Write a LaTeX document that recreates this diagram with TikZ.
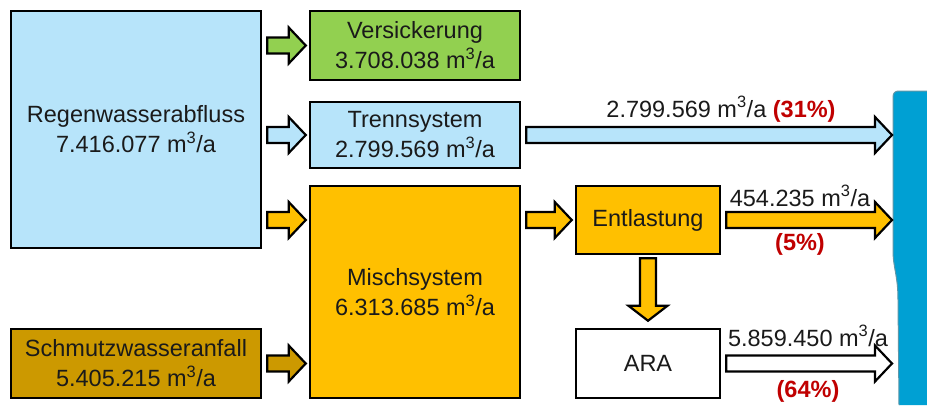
\documentclass[tikz,border=0pt]{standalone}
\usepackage{fontspec}
\setmainfont{Liberation Sans}
\usetikzlibrary{calc}

\definecolor{regenblau}{HTML}{B7E4FA}
\definecolor{versgruen}{HTML}{92D050}
\definecolor{mischgelb}{HTML}{FFC000}
\definecolor{schmutzgelb}{HTML}{CC9900}
\definecolor{fluss}{HTML}{00A0D3}
\definecolor{flussrand}{HTML}{5F97A8}
\definecolor{prozentrot}{HTML}{C00000}
\definecolor{textgrau}{HTML}{1A1A1A}

\tikzset{
  box/.style={draw=black, line width=2.5pt, align=center, text=textgrau,
    font=\fontsize{23.5}{30}\selectfont, inner sep=0pt},
  wert/.style={text=textgrau, font=\fontsize{23.5}{28}\selectfont, inner sep=0pt, anchor=base},
  flow/.style={draw=black, line width=2.2pt, line join=miter},
}

% Blockpfeil waagrecht: Farbe, von, nach
\newcommand{\hflow}[3]{%
  \draw[flow, fill=#1] let \p1=(#2), \p2=(#3) in
    (\x1+5pt,\y1+8pt) -- (\x2-20pt,\y1+8pt) -- (\x2-20pt,\y1+18pt) -- (\x2-3pt,\y1)
    -- (\x2-20pt,\y1-18pt) -- (\x2-20pt,\y1-8pt) -- (\x1+5pt,\y1-8pt) -- cycle;}
% Blockpfeil senkrecht nach unten
\newcommand{\vflow}[3]{%
  \draw[flow, fill=#1] let \p1=(#2), \p2=(#3) in
    (\x1-8pt,\y1-3pt) -- (\x1-8pt,\y2+22pt) -- (\x1-19.5pt,\y2+22pt) -- (\x1,\y2+7pt)
    -- (\x1+19.5pt,\y2+22pt) -- (\x1+8pt,\y2+22pt) -- (\x1+8pt,\y1-3pt) -- cycle;}

\begin{document}
\begin{tikzpicture}[x=1pt,y=-1pt]

    \useasboundingbox (0,0) rectangle (927,405);

    % Gewaesser
    \fill[fluss] (927,91) -- (899,91) .. controls (895,91) and (893,93) .. (893,97)
        -- (893,250) .. controls (893,268) and (898,275) .. (898,300) -- (899,405) -- (927,405) -- cycle;
    \draw[flussrand, line width=1pt] (927,91) -- (899,91) .. controls (895,91) and (893,93) .. (893,97)
        -- (893,250) .. controls (893,268) and (898,275) .. (898,300) -- (899,405);
    \coordinate (ufer) at (895,220);

    % Kaesten
    \node[box, fill=regenblau, minimum width=250pt, minimum height=237pt] (regen) at (136,129.5)
        {Regenwasserabfluss\\7.416.077 m\textsuperscript{3}/a};
    \node[box, fill=schmutzgelb, minimum width=250pt, minimum height=69pt] (schmutz) at (136,363.5)
        {Schmutzwasseranfall\\5.405.215 m\textsuperscript{3}/a};
    \node[box, fill=versgruen, minimum width=210pt, minimum height=69pt] (vers) at (415,45.5)
        {Versickerung\\3.708.038 m\textsuperscript{3}/a};
    \node[box, fill=regenblau, minimum width=210pt, minimum height=66pt] (trenn) at (415,135)
        {Trennsystem\\2.799.569 m\textsuperscript{3}/a};
    \node[box, fill=mischgelb, minimum width=210pt, minimum height=212pt] (misch) at (415,292)
        {Mischsystem\\6.313.685 m\textsuperscript{3}/a};
    \node[box, fill=mischgelb, minimum width=144pt, minimum height=68pt] (entl) at (648,220)
        {Entlastung};
    \node[box, fill=white, minimum width=144pt, minimum height=69pt] (ara) at (648,363.5)
        {ARA};

    % Pfeile
    \hflow{versgruen}{regen.east|-vers}{vers.west}
    \hflow{regenblau}{regen.east|-trenn}{trenn.west}
    \hflow{mischgelb}{regen.east|-entl}{misch.west|-entl}
    \hflow{schmutzgelb}{schmutz.east}{misch.west|-schmutz}
    \hflow{mischgelb}{misch.east|-entl}{entl.west}
    \hflow{regenblau}{trenn.east}{ufer|-trenn}
    \hflow{mischgelb}{entl.east}{ufer|-entl}
    \hflow{white}{ara.east}{ufer|-ara}
    \vflow{mischgelb}{entl.south}{ara.north}

    % Frachten
    \node[wert] (trennwert) at (721,117)
        {2.799.569 m\textsuperscript{3}/a \textcolor{prozentrot}{\bfseries(31\%)}};
    \node[wert] (entlwert) at (800,206) {454.235 m\textsuperscript{3}/a};
    \node[wert, text=prozentrot, font=\fontsize{23.5}{28}\selectfont\bfseries] (entlanteil) at (800,250) {(5\%)};
    \node[wert] (arawert) at (808,346) {5.859.450 m\textsuperscript{3}/a};
    \node[wert, text=prozentrot, font=\fontsize{23.5}{28}\selectfont\bfseries] (araanteil) at (808,397) {(64\%)};

\end{tikzpicture}
\end{document}
